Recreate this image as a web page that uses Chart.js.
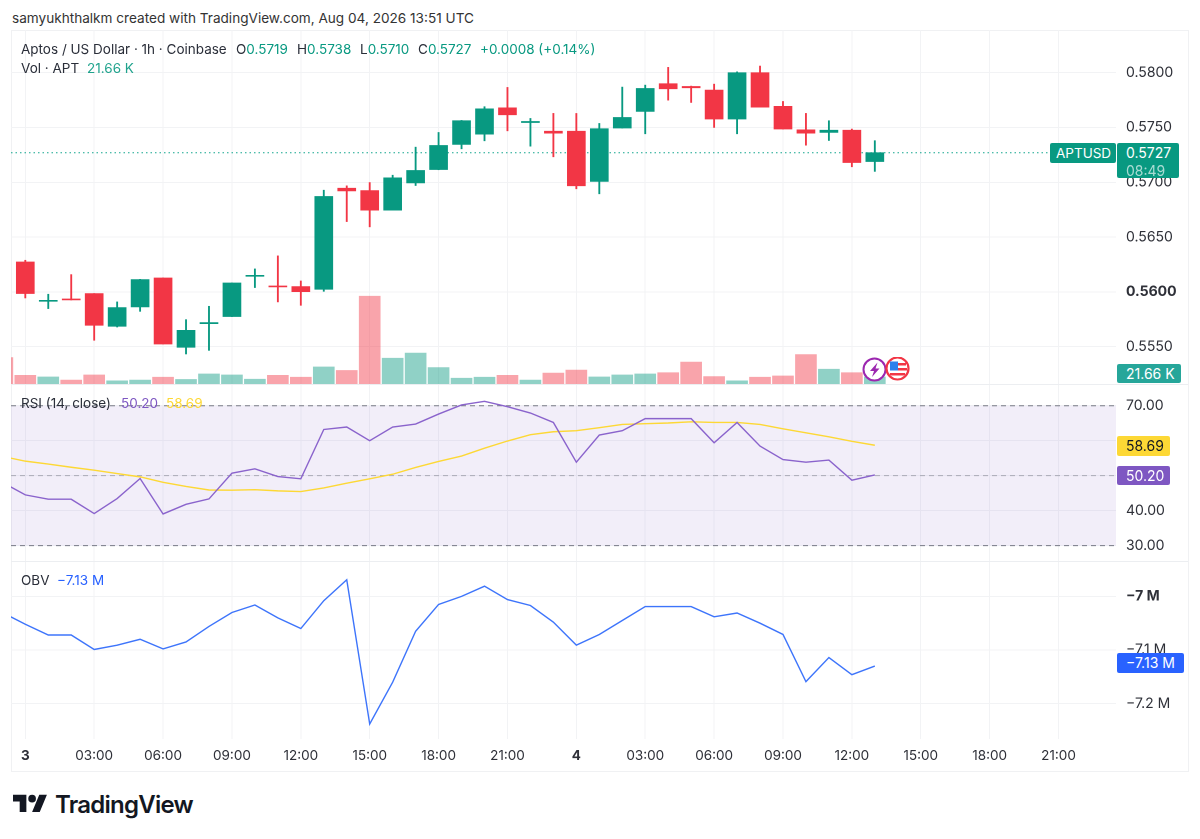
<!DOCTYPE html>
<html>
<head>
<meta charset="utf-8">
<title>APTUSD</title>
<script src="https://cdn.jsdelivr.net/npm/chart.js@4/dist/chart.umd.min.js"></script>
<style>
  html, body { margin: 0; padding: 0; background: #fff; }
  body { width: 1200px; height: 839px; position: relative; overflow: hidden; font-family: Inter, "Noto Sans", sans-serif; color: #2a2e39; }
  canvas { position: absolute; left: 11px; }
  #price_chart { top: 30px; }
  #rsi_chart { top: 384px; }
  #obv_chart { top: 561px; }
  #frame { position: absolute; left: 11px; top: 30px; width: 1176px; height: 740px; border: 1px solid #f0f1f3; }
  .sep { position: absolute; left: 11px; width: 1177px; height: 1px; background: #eceef1; }
  .t { position: absolute; white-space: nowrap; font-size: 13.5px; line-height: 16px; }
  .g { color: #089981; }
  .tag { position: absolute; border-radius: 2px; font-size: 14px; white-space: nowrap; padding-left: 9px; box-sizing: border-box; }
</style>
</head>
<body>
<div class="t" style="left:12px;top:10px;font-size:13.6px;color:#333">samyukhthalkm created with TradingView.com, Aug 04, 2026 13:51 UTC</div>

<div id="frame"></div>
<canvas id="price_chart" width="1177" height="354"></canvas>
<canvas id="rsi_chart" width="1177" height="177"></canvas>
<canvas id="obv_chart" width="1177" height="210"></canvas>
<div class="sep" style="top:384px"></div>
<div class="sep" style="top:561px"></div>

<div class="t" style="left:21px;top:41px">Aptos / US Dollar · 1h · Coinbase</div>
<div class="t" style="left:236px;top:41px">O<span class="g">0.5719</span></div>
<div class="t" style="left:297px;top:41px">H<span class="g">0.5738</span></div>
<div class="t" style="left:360px;top:41px">L<span class="g">0.5710</span></div>
<div class="t" style="left:418px;top:41px">C<span class="g">0.5727</span></div>
<div class="t g" style="left:480px;top:41px">+0.0008 (+0.14%)</div>
<div class="t" style="left:21px;top:60px">Vol · APT</div>
<div class="t g" style="left:87px;top:60px;opacity:.9">21.66 K</div>

<div class="t" style="left:21px;top:395px">RSI (14, close)</div>
<div class="t" style="left:121px;top:395px;color:#7e57c2">50.20</div>
<div class="t" style="left:166px;top:395px;color:#fdd835">58.69</div>

<div class="t" style="left:21px;top:572px">OBV</div>
<div class="t" style="left:57px;top:572px;color:#2962ff">−7.13 M</div>

<div class="tag" style="left:1050px;top:143px;width:66px;height:20px;line-height:20px;background:#089981;color:#fff;font-size:13.5px;padding-left:6px">APTUSD</div>
<div class="tag" style="left:1117px;top:143px;width:62px;height:35px;background:#089981;color:#fff;line-height:18px;padding-top:1px">0.5727<br><span style="opacity:.65">08:49</span></div>
<div class="tag" style="left:1117px;top:364px;width:64px;height:19px;line-height:19px;background:#26a69a;color:#fff">21.66 K</div>
<div class="tag" style="left:1117px;top:436px;width:53px;height:20px;line-height:20px;background:#fdd835;color:#131722">58.69</div>
<div class="tag" style="left:1117px;top:466px;width:53px;height:19px;line-height:19px;background:#7e57c2;color:#fff">50.20</div>
<div class="tag" style="left:1117px;top:653px;width:67px;height:20px;line-height:20px;background:#2962ff;color:#fff">−7.13 M</div>

<svg style="position:absolute;left:862px;top:357px" width="50" height="26" viewBox="0 0 50 26">
  <circle cx="12.5" cy="12.5" r="11" fill="#fff" stroke="#9c27b0" stroke-width="2"/>
  <path d="M15.5 5.5 L8 14 L12 14 L10 20 L17.5 11.5 L13.5 11.5 Z" fill="#9c27b0"/>
  <circle cx="35.5" cy="11.5" r="11" fill="#fff" stroke="#f23645" stroke-width="2.2"/>
  <rect x="36" y="6" width="8" height="2.5" fill="#f23645"/>
  <rect x="36" y="11" width="9" height="2.5" fill="#f23645"/>
  <rect x="28" y="16" width="15" height="2.5" fill="#f23645"/>
  <rect x="28" y="4.5" width="8" height="9" fill="#2f80ed"/>
</svg>

<svg style="position:absolute;left:13.4px;top:791.2px" width="34.4" height="26.8" viewBox="0 0 36 28">
  <path d="M14 22H7V11H0V4h14v18zM28 22h-8l7.5-18h8L28 22z" fill="#131722"/>
  <circle cx="20" cy="8" r="4" fill="#131722"/>
</svg>
<div style="position:absolute;left:55px;top:790px;font-size:24px;line-height:30px;font-weight:600;color:#131722;letter-spacing:-0.75px">TradingView</div>

<script>
// hours since Aug 3 00:00, -1 is the bar cut off at the left edge
var hours = [-1,0,1,2,3,4,5,6,7,8,9,10,11,12,13,14,15,16,17,18,19,20,21,22,23,24,25,26,27,28,29,30,31,32,33,34,35,36,37];

var opens = [null,0.56274,0.55915,0.55936,0.55985,0.55687,0.55863,0.56128,0.55495,0.55711,0.55775,0.56143,0.56055,0.56049,0.56024,0.56947,0.56925,0.56746,0.56995,0.57117,0.57346,0.5744,0.5768,0.57546,0.57467,0.57467,0.57008,0.57495,0.57647,0.579,0.57875,0.57842,0.57577,0.58,0.57693,0.57479,0.57455,0.57476,0.5719];
var highs = [null,0.56289,0.55979,0.56158,0.55985,0.55909,0.56115,0.56128,0.55747,0.55869,0.56082,0.5621,0.56329,0.561,0.56928,0.56968,0.56998,0.57065,0.57321,0.57455,0.57565,0.5769,0.57866,0.57583,0.57629,0.57629,0.57537,0.57869,0.57887,0.58049,0.57878,0.57896,0.58008,0.58061,0.57738,0.57629,0.57562,0.57486,0.5738];
var lows = [null,0.55945,0.55848,0.55927,0.55559,0.5568,0.55823,0.55525,0.55434,0.55467,0.55775,0.5604,0.55909,0.55878,0.56006,0.56642,0.56594,0.56746,0.56971,0.57115,0.57306,0.57379,0.5747,0.5733,0.57233,0.56941,0.56895,0.57495,0.57443,0.5775,0.57729,0.57501,0.57443,0.57686,0.57486,0.57339,0.57382,0.57142,0.571];
var closes = [null,0.55985,0.55924,0.55927,0.55696,0.55857,0.56113,0.55525,0.5565,0.5572,0.56082,0.56152,0.56046,0.56003,0.56871,0.56922,0.56746,0.57041,0.57108,0.57336,0.57562,0.57671,0.57616,0.57556,0.57449,0.56968,0.57489,0.57592,0.57857,0.57854,0.57863,0.57577,0.58,0.57686,0.57486,0.57449,0.57476,0.57181,0.5727];

// volume in thousands of APT
var volumes = [82,27,22,12,28,10,12,21,14,31,28,15,27,21,53,42,272,80,96,51,18,21,27,12,34,43,22,28,31,35,68,23,10,21,25,91,46,35,21.66];
var volumeUp = [false,false,true,false,false,true,true,false,true,true,true,true,false,false,true,false,false,true,true,true,true,true,false,true,false,false,true,true,true,false,false,false,true,false,false,false,true,false,true];

var rsi = [48.1,44.5,43.26,43.26,39.15,43.45,49.18,39.05,41.8,43.35,50.7,51.95,49.75,49.1,63.2,63.9,60,63.9,64.75,67.6,70.2,71.25,69.7,67.9,65.2,53.85,61.6,62.85,66.3,66.3,66.3,59.4,65.2,58.45,54.6,53.85,54.45,48.7,50.2];
var rsiMa = [55.5,54.15,53.3,52.4,51.55,50.6,49.65,48.1,46.9,45.9,45.85,46,45.65,45.45,46.5,47.85,49.1,50.4,52.35,54.05,55.6,57.85,59.9,61.7,62.55,62.85,63.7,64.65,64.85,65.05,65.4,65.2,65.2,64.65,63.4,62.25,61.1,59.8,58.69];

// millions
var obv = [-7.03,-7.052,-7.072,-7.072,-7.099,-7.091,-7.08,-7.098,-7.085,-7.056,-7.03,-7.016,-7.04,-7.06,-7.008,-6.969,-7.238,-7.16,-7.065,-7.015,-7,-6.981,-7.006,-7.017,-7.048,-7.091,-7.071,-7.045,-7.019,-7.019,-7.019,-7.038,-7.031,-7.05,-7.071,-7.159,-7.114,-7.146,-7.13];

var lastPrice = [0.5727];
var priceTicks = [0.555,0.56,0.565,0.57,0.575,0.58];
var rsiTicks = [30,40,50,60,70];
var obvTicks = [-7.2,-7.1,-7];
var timeTicks = [0,3,6,9,12,15,18,21,24,27,30,33,36,39,42,45];
var timeLabels = ['3','03:00','06:00','09:00','12:00','15:00','18:00','21:00','4','03:00','06:00','09:00','12:00','15:00','18:00','21:00'];

var UP = '#089981', DOWN = '#f23645', GRID = '#f2f3f5', TEXT = '#2e3038';
var xMin = -0.623, xMax = 47.504;
var AXIS_W = 72;
var fontFamily = 'Inter';

Chart.defaults.font.family = fontFamily;
Chart.defaults.animation = false;
Chart.defaults.responsive = false;
Chart.defaults.devicePixelRatio = 2;
Chart.defaults.plugins.legend.display = false;
Chart.defaults.plugins.tooltip.enabled = false;

function pairs(values) {
  return values.map(function (v, i) { return { x: hours[i], y: v }; });
}

// flat line right across the pane
function level(value) {
  return [{ x: xMin, y: value }, { x: xMax, y: value }];
}

// axis labels must not push the chart area in
function noPadding(s) {
  s.paddingTop = 0;
  s.paddingBottom = 0;
  s.paddingLeft = 0;
  s.paddingRight = 0;
}

function xScale(showLabels) {
  return {
    type: 'linear',
    min: xMin,
    max: xMax,
    offset: false,
    afterBuildTicks: function (s) { s.ticks = timeTicks.map(function (v) { return { value: v }; }); },
    afterFit: function (s) { s.height = showLabels ? 32 : 0; noPadding(s); },
    grid: { color: GRID, offset: false, drawTicks: false, tickLength: 0 },
    border: { display: false },
    ticks: {
      display: showLabels,
      autoSkip: false,
      maxRotation: 0,
      padding: 9,
      color: TEXT,
      font: function (c) {
        var bold = c.tick && (c.tick.value === 0 || c.tick.value === 24);
        return { size: 13.5, weight: bold ? '700' : '400' };
      },
      callback: function (v) { return timeLabels[timeTicks.indexOf(v)]; }
    }
  };
}

function yScale(min, max, tickValues, boldValue, format) {
  return {
    position: 'right',
    min: min,
    max: max,
    afterBuildTicks: function (s) { s.ticks = tickValues.map(function (v) { return { value: v }; }); },
    afterFit: function (s) { s.width = AXIS_W; noPadding(s); },
    grid: { color: GRID, drawTicks: false, tickLength: 0 },
    border: { display: false },
    ticks: {
      autoSkip: false,
      padding: 10,
      color: TEXT,
      font: function (c) {
        return { size: 14, weight: c.tick && c.tick.value === boldValue ? '700' : '400' };
      },
      callback: format
    }
  };
}

var layout = { padding: 0 };

new Chart(document.getElementById('price_chart'), {
  type: 'bar',
  data: {
    datasets: [
      {
        label: 'bodies',
        order: 1,
        grouped: false,
        barThickness: 18,
        data: hours.map(function (h, i) { return { x: h, y: [opens[i], closes[i]] }; }),
        backgroundColor: closes.map(function (c, i) { return c >= opens[i] ? UP : DOWN; })
      },
      {
        label: 'wicks',
        order: 2,
        grouped: false,
        barThickness: 1.2,
        data: hours.map(function (h, i) { return { x: h, y: [lows[i], highs[i]] }; }),
        backgroundColor: closes.map(function (c, i) { return c >= opens[i] ? UP : DOWN; })
      },
      {
        label: 'volume',
        order: 3,
        grouped: false,
        yAxisID: 'vol',
        barThickness: 21,
        data: pairs(volumes),
        backgroundColor: volumeUp.map(function (u) { return u ? 'rgba(8,153,129,0.45)' : 'rgba(242,54,69,0.45)'; })
      },
      {
        label: 'last price',
        type: 'line',
        order: 4,
        data: level(lastPrice[0]),
        borderColor: '#12a58e',
        borderWidth: 1,
        borderDash: [1.5, 3],
        pointRadius: 0
      }
    ]
  },
  options: {
    layout: layout,
    scales: {
      x: xScale(false),
      y: yScale(0.5516, 0.5839, priceTicks, 0.56, function (v) { return v.toFixed(4); }),
      vol: { display: false, min: 0, max: 1097 }
    }
  }
});

new Chart(document.getElementById('rsi_chart'), {
  type: 'line',
  data: {
    datasets: [
      { label: 'RSI', data: pairs(rsi), borderColor: '#8a63cc', borderWidth: 1.4, pointRadius: 0, tension: 0 },
      { label: 'RSI MA', data: pairs(rsiMa), borderColor: '#fdd835', borderWidth: 1.4, pointRadius: 0, tension: 0 },
      { label: 'upper', data: level(70), borderColor: '#787b86', borderWidth: 1, borderDash: [5, 4], pointRadius: 0, fill: '+1', backgroundColor: 'rgba(126,87,194,0.1)' },
      { label: 'lower', data: level(30), borderColor: '#787b86', borderWidth: 1, borderDash: [5, 4], pointRadius: 0 },
      { label: 'middle', data: level(50), borderColor: 'rgba(120,123,134,0.55)', borderWidth: 1, borderDash: [5, 4], pointRadius: 0 }
    ]
  },
  options: {
    layout: layout,
    plugins: { filler: { drawTime: 'beforeDatasetsDraw' } },
    scales: {
      x: xScale(false),
      // the 60 label stays hidden, only its grid line shows next to the tag
      y: yScale(25.6, 76.2, rsiTicks, null, function (v) { return v === 60 ? '' : v.toFixed(2); })
    }
  }
});

new Chart(document.getElementById('obv_chart'), {
  type: 'line',
  data: {
    datasets: [
      { label: 'OBV', data: pairs(obv), borderColor: '#3d74fb', borderWidth: 1.4, pointRadius: 0, tension: 0 }
    ]
  },
  options: {
    layout: layout,
    scales: {
      x: xScale(true),
      y: yScale(-7.266, -6.934, obvTicks, -7, function (v) { return (v === -7 ? '−7' : '−' + Math.abs(v).toFixed(1)) + ' M'; })
    }
  }
});
</script>
</body>
</html>
